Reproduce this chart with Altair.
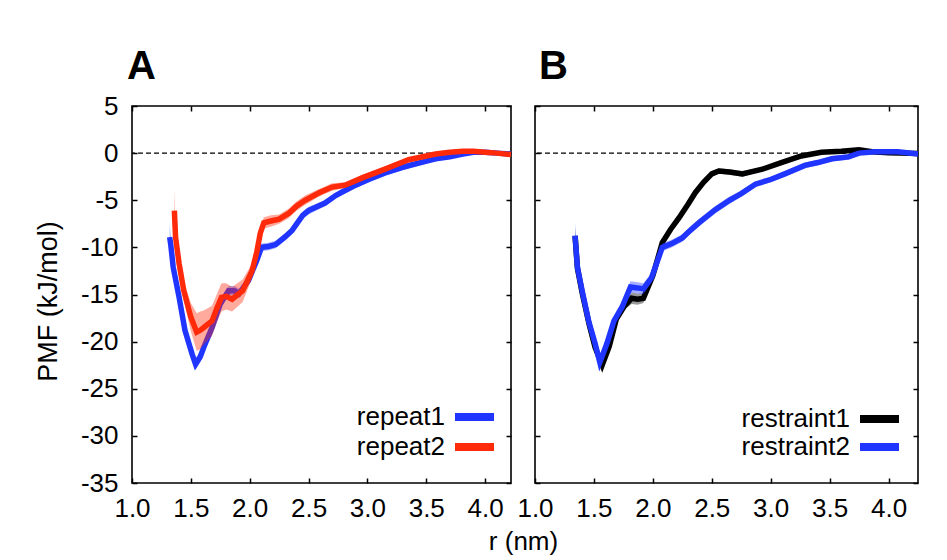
import altair as alt
import pandas as pd

FONT = "Liberation Sans"
X_TICKS = [1.0, 1.5, 2.0, 2.5, 3.0, 3.5, 4.0]
Y_TICKS = [-35, -30, -25, -20, -15, -10, -5, 0, 5]

BLUE = "#2035ff"
RED = "#ff2a0a"
BLACK = "#000000"

# ---- Panel A: repeat1 (blue) ----
a1_r = [1.32, 1.33, 1.35, 1.40, 1.45, 1.51, 1.54, 1.58, 1.61, 1.68, 1.75, 1.82, 1.87, 1.91,
        1.99, 2.06, 2.10, 2.16, 2.22, 2.30, 2.36, 2.45, 2.50, 2.64, 2.73, 2.79, 2.90, 3.01,
        3.15, 3.30, 3.45, 3.58, 3.70, 3.81, 3.90, 4.00, 4.10, 4.22]
a1_pmf = [-8.9, -9.8, -12.1, -15.3, -18.8, -21.3, -22.4, -21.6, -20.6, -18.5, -16.0, -14.6,
          -14.6, -14.9, -13.5, -11.4, -10.0, -9.9, -9.7, -8.9, -8.2, -6.6, -6.1, -5.3, -4.5,
          -4.1, -3.4, -2.8, -2.1, -1.5, -1.0, -0.6, -0.4, -0.1, 0.1, 0.1, 0.0, -0.1]
a1_err = [1.4, 0.8, 0.5, 0.4, 0.4, 0.5, 0.6, 0.6, 0.5, 0.5, 0.5, 0.5, 0.5, 0.5, 0.4, 0.4,
          0.4, 0.4, 0.4, 0.4, 0.4, 0.4, 0.4, 0.3, 0.3, 0.3, 0.3, 0.3, 0.3, 0.3, 0.3, 0.2,
          0.2, 0.2, 0.2, 0.2, 0.2, 0.2]

# ---- Panel A: repeat2 (red) ----
a2_r = [1.36, 1.37, 1.40, 1.44, 1.50, 1.55, 1.58, 1.61, 1.68, 1.72, 1.76, 1.80, 1.85, 1.94,
        2.02, 2.06, 2.09, 2.12, 2.18, 2.25, 2.33, 2.40, 2.47, 2.59, 2.70, 2.81, 2.96, 3.15,
        3.35, 3.50, 3.58, 3.70, 3.81, 3.90, 4.00, 4.10, 4.22]
a2_pmf = [-6.1, -8.9, -11.7, -14.6, -17.4, -19.0, -18.8, -18.5, -17.8, -16.5, -15.3, -15.2,
          -15.5, -14.6, -12.5, -10.5, -8.5, -7.4, -7.2, -7.0, -6.4, -5.6, -5.0, -4.2, -3.6,
          -3.4, -2.6, -1.7, -0.7, -0.3, -0.1, 0.1, 0.2, 0.2, 0.1, 0.0, -0.15]
a2_err = [2.3, 1.0, 0.8, 1.0, 1.5, 2.0, 2.0, 1.8, 1.6, 1.5, 1.5, 1.4, 1.3, 1.2, 0.8, 0.6,
          0.6, 0.6, 0.6, 0.5, 0.5, 0.5, 0.5, 0.4, 0.4, 0.3, 0.3, 0.3, 0.2, 0.2, 0.2, 0.2,
          0.2, 0.2, 0.2, 0.2, 0.2]

# ---- Panel B: restraint1 (black) ----
b1_r = [1.34, 1.36, 1.40, 1.46, 1.51, 1.57, 1.63, 1.69, 1.76, 1.82, 1.87, 1.92, 2.00, 2.08,
        2.15, 2.22, 2.30, 2.36, 2.43, 2.50, 2.56, 2.65, 2.76, 2.93, 3.09, 3.26, 3.43, 3.60,
        3.75, 3.86, 4.00, 4.10, 4.25]
b1_pmf = [-8.8, -12.2, -14.8, -18.2, -20.6, -22.5, -20.5, -17.6, -16.2, -15.4, -15.5, -15.4,
          -13.0, -9.5, -8.1, -6.9, -5.4, -4.2, -3.1, -2.2, -1.9, -2.0, -2.2, -1.7, -1.0,
          -0.3, 0.1, 0.2, 0.35, 0.15, 0.05, 0.0, -0.05]
b1_err = [0.8, 0.5, 0.4, 0.4, 0.5, 0.6, 0.5, 0.4, 0.4, 0.6, 0.6, 0.5, 0.4, 0.3, 0.3, 0.3,
          0.3, 0.3, 0.3, 0.3, 0.3, 0.3, 0.3, 0.2, 0.2, 0.2, 0.2, 0.2, 0.2, 0.2, 0.2, 0.2, 0.2]

# ---- Panel B: restraint2 (blue) ----
b2_r = [1.34, 1.36, 1.40, 1.455, 1.51, 1.55, 1.61, 1.67, 1.74, 1.81, 1.87, 1.92, 1.99, 2.08,
        2.16, 2.25, 2.30, 2.39, 2.53, 2.65, 2.75, 2.87, 3.00, 3.12, 3.29, 3.40, 3.52, 3.66,
        3.75, 3.89, 4.08, 4.25]
b2_pmf = [-8.75, -12.1, -14.6, -17.8, -20.2, -22.2, -20.2, -17.8, -16.3, -14.2, -14.3, -14.4,
          -13.2, -10.0, -9.6, -9.0, -8.4, -7.4, -6.0, -5.0, -4.3, -3.3, -2.8, -2.2, -1.3,
          -1.0, -0.6, -0.4, 0.0, 0.15, 0.15, -0.1]
b2_err = [1.4, 0.6, 0.4, 0.4, 0.4, 0.5, 0.5, 0.4, 0.5, 0.6, 0.6, 0.6, 0.5, 0.4, 0.4, 0.4,
          0.4, 0.4, 0.4, 0.4, 0.3, 0.3, 0.3, 0.3, 0.3, 0.3, 0.3, 0.3, 0.2, 0.2, 0.2, 0.2]

names_a = ["repeat1", "repeat2"]
names_b = ["restraint1", "restraint2"]
panel_letters = ["A", "B"]

H = 377
FS = 26


def make_df(r, pmf, err):
    df = pd.DataFrame({"r": r, "pmf": pmf, "err": err})
    df["lo"] = df["pmf"] - df["err"]
    df["hi"] = df["pmf"] + df["err"]
    return df


def panel(letter, series, names, xmax, width, first, legend_xy, letter_dx):
    xs = alt.Scale(domain=[1.0, xmax], nice=False, zero=False)
    ys = alt.Scale(domain=[-35, 5], nice=False, zero=False)

    bottom_axis = alt.Axis(
        orient="bottom", values=X_TICKS, format=".1f", offset=-5, tickSize=5,
        tickWidth=1.5, tickColor="black", domain=False, grid=False,
        labelFont=FONT, labelFontSize=FS, labelColor="black", labelPadding=12,
        labelFlush=False, labelOverlap=False,
        title="r (nm)" if first else None,
        **({"titleX": 391, "titleY": 71, "titleAlign": "center",
            "titleBaseline": "alphabetic", "titleFont": FONT, "titleFontSize": FS,
            "titleFontWeight": "normal", "titleColor": "black"} if first else {}),
    )
    left_axis = alt.Axis(
        orient="left", values=Y_TICKS, labelExpr="'' + datum.value", offset=-5, tickSize=5,
        tickWidth=1.5, tickColor="black", domain=False, grid=False,
        labels=first, labelFont=FONT, labelFontSize=FS, labelColor="black",
        labelPadding=14, labelFlush=False, labelOverlap=False,
        title="PMF (kJ/mol)" if first else None,
        **({"titleX": -89, "titleY": 195, "titleAlign": "center", "titleAngle": 270,
            "titleBaseline": "middle", "titleFont": FONT, "titleFontSize": 27,
            "titleFontWeight": "normal", "titleColor": "black"} if first else {}),
    )
    top_axis = alt.Axis(orient="top", values=X_TICKS, offset=-5, tickSize=5, tickWidth=1.5,
                        tickColor="black", domain=False, grid=False, labels=False, title=None)
    right_axis = alt.Axis(orient="right", values=Y_TICKS, offset=-5, tickSize=5, tickWidth=1.5,
                          tickColor="black", domain=False, grid=False, labels=False, title=None)

    layers = []
    zero = alt.Chart(pd.DataFrame({"z": [0]})).mark_rule(
        color="black", strokeDash=[5, 3], strokeWidth=1.3
    ).encode(y=alt.Y("z:Q", scale=ys, axis=None))
    layers.append(zero)

    for i, (df, color) in enumerate(series):
        band = alt.Chart(df).mark_area(color=color, opacity=0.4).encode(
            x=alt.X("r:Q", scale=xs, axis=None),
            y=alt.Y("lo:Q", scale=ys, axis=None),
            y2="hi:Q",
        )
        line = alt.Chart(df).mark_line(color=color, strokeWidth=5.5).encode(
            x=alt.X("r:Q", scale=xs, axis=bottom_axis if i == 0 else None),
            y=alt.Y("pmf:Q", scale=ys, axis=left_axis if i == 0 else None),
        )
        layers += [band, line]

    ghost = alt.Chart(series[0][0]).mark_point(opacity=0).encode(
        x=alt.X("r:Q", scale=xs, axis=top_axis),
        y=alt.Y("pmf:Q", scale=ys, axis=right_axis),
    )
    layers.append(ghost)

    tx, sx1, sx2, y1, y2 = legend_xy
    for (df, color), name, yy in zip(series, names, [y1, y2]):
        lbl = alt.Chart(pd.DataFrame({"name": [name]})).mark_text(
            align="right", baseline="middle", font=FONT, fontSize=FS, color="black"
        ).encode(x=alt.value(tx), y=alt.value(yy), text="name:N")
        sw = alt.Chart(pd.DataFrame({"name": [name]})).mark_rule(
            color=color, strokeWidth=8
        ).encode(x=alt.value(sx1), x2=alt.value(sx2), y=alt.value(yy))
        layers += [lbl, sw]

    letter_mark = alt.Chart(pd.DataFrame({"t": [letter]})).mark_text(
        align="left", baseline="alphabetic", font=FONT, fontSize=40, fontWeight="bold",
        color="black"
    ).encode(x=alt.value(letter_dx), y=alt.value(-27), text="t:N")
    layers.append(letter_mark)

    return alt.layer(*layers).properties(width=width, height=H)


pA = panel(panel_letters[0],
           [(make_df(a1_r, a1_pmf, a1_err), BLUE), (make_df(a2_r, a2_pmf, a2_err), RED)],
           names_a, 4.22, 379, True, (313, 323, 362, 311, 341), -5)
pB = panel(panel_letters[1],
           [(make_df(b1_r, b1_pmf, b1_err), BLACK), (make_df(b2_r, b2_pmf, b2_err), BLUE)],
           names_b, 4.25, 383, False, (315, 325, 364, 313, 341), 4)

chart = alt.hconcat(pA, pB, spacing=24, bounds="flush").properties(
    padding={"left": 25, "top": 38, "right": 5, "bottom": 5}
).configure_view(stroke="black", strokeWidth=1.6)

chart.save("out.html", embed_options={"renderer": "svg", "actions": False})
